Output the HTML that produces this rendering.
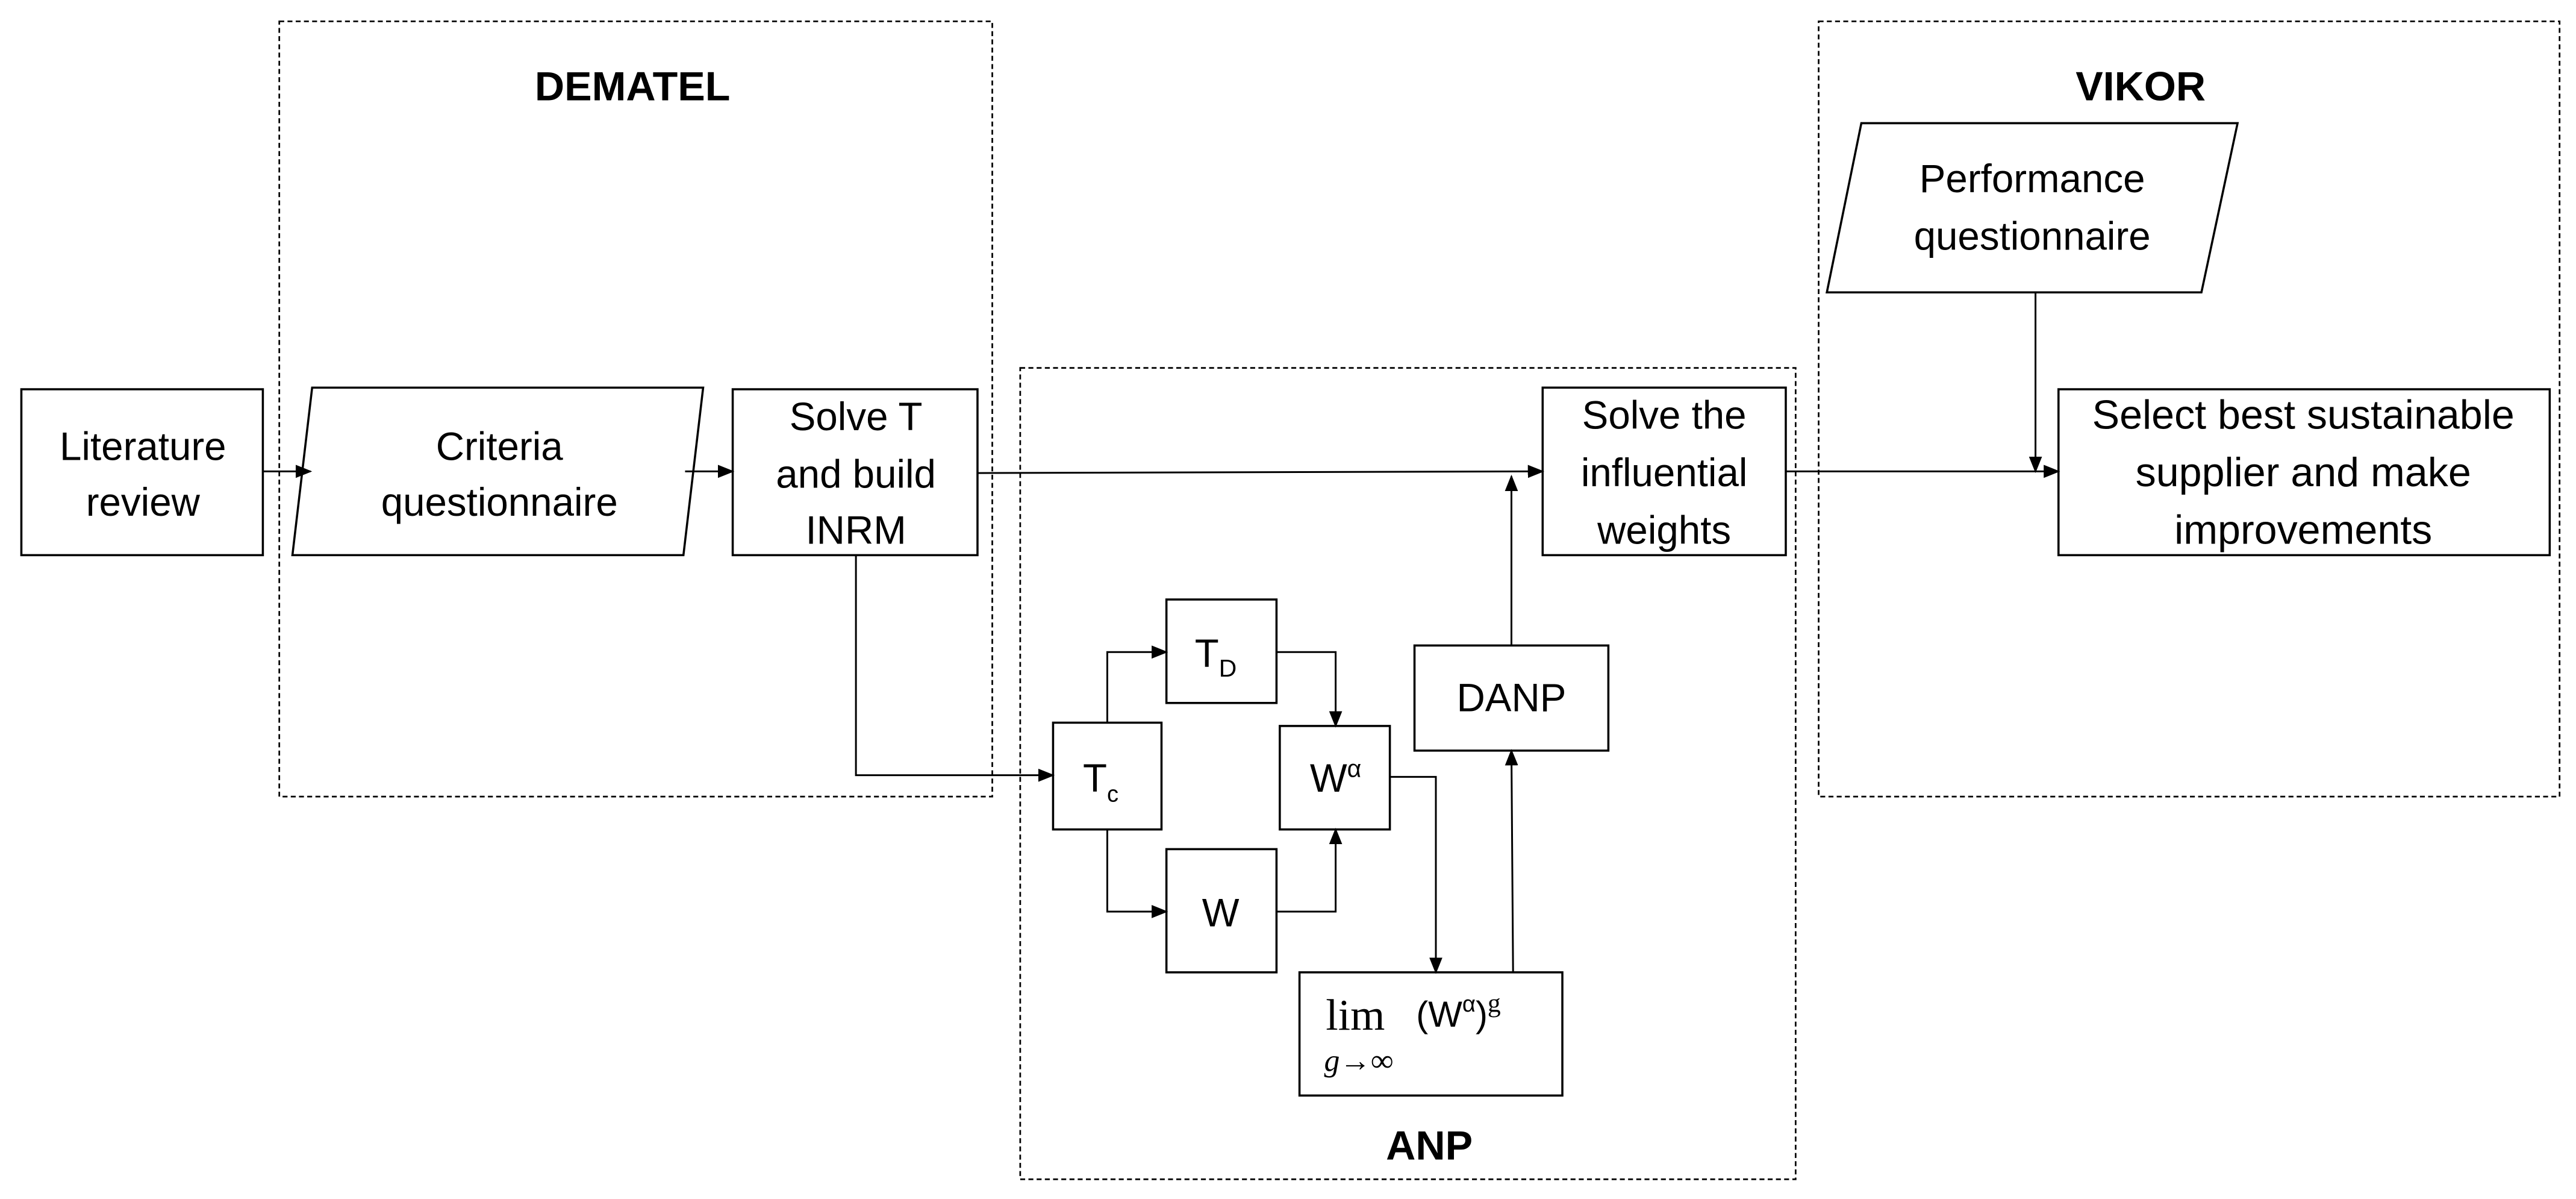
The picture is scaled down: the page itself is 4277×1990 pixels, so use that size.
<!DOCTYPE html>
<html><head><meta charset="utf-8"><style>
html,body{margin:0;padding:0;background:#fff;}
svg{display:block;}
</style></head><body>
<svg width="4277" height="1990" viewBox="0 0 1568 730" preserveAspectRatio="none" xmlns="http://www.w3.org/2000/svg" font-family="Liberation Sans, sans-serif">
<defs>
<marker id="a" markerWidth="10" markerHeight="8" refX="9" refY="4" orient="auto" markerUnits="userSpaceOnUse">
<path d="M0,0 L10,4 L0,8 Z" fill="#000"/></marker>
</defs>
<g fill="none" stroke="#000" stroke-width="1" stroke-dasharray="3,2">
<rect x="170" y="13" width="434" height="472"/>
<rect x="621" y="224" width="472" height="494"/>
<rect x="1107" y="13" width="451" height="472"/>
</g>
<g fill="#fff" stroke="#000" stroke-width="1.3">
<rect x="13" y="237" width="147" height="101"/>
<polygon points="190,236 428,236 416,338 178,338"/>
<rect x="446" y="237" width="149" height="101"/>
<rect x="939" y="236" width="148" height="102"/>
<polygon points="1133,75 1362,75 1340,178 1112,178"/>
<rect x="1253" y="237" width="299" height="101"/>
<rect x="641" y="440" width="66" height="65"/>
<rect x="710" y="365" width="67" height="63"/>
<rect x="710" y="517" width="67" height="75"/>
<rect x="779" y="442" width="67" height="63"/>
<rect x="861" y="393" width="118" height="64"/>
<rect x="791" y="592" width="160" height="75"/>
</g>
<g fill="none" stroke="#000" stroke-width="1.1">
<line x1="160" y1="287" x2="189" y2="287" marker-end="url(#a)"/>
<line x1="417" y1="287" x2="446" y2="287" marker-end="url(#a)"/>
<line x1="595" y1="288" x2="939" y2="287" marker-end="url(#a)"/>
<line x1="1087" y1="287" x2="1253" y2="287" marker-end="url(#a)"/>
<line x1="1239" y1="178" x2="1239" y2="287" marker-end="url(#a)"/>
<polyline points="521,338 521,472 641,472" marker-end="url(#a)"/>
<polyline points="674,440 674,397 710,397" marker-end="url(#a)"/>
<polyline points="674,505 674,555 710,555" marker-end="url(#a)"/>
<polyline points="777,397 813,397 813,442" marker-end="url(#a)"/>
<polyline points="777,555 813,555 813,505" marker-end="url(#a)"/>
<polyline points="846,473 874,473 874,592" marker-end="url(#a)"/>
<line x1="921" y1="592" x2="920" y2="457" marker-end="url(#a)"/>
<line x1="920" y1="393" x2="920" y2="290" marker-end="url(#a)"/>
</g>
<g font-size="24" text-anchor="middle" fill="#000">
<text x="385" y="61" font-weight="bold" font-size="25">DEMATEL</text>
<text x="1303" y="61" font-weight="bold" font-size="25">VIKOR</text>
<text x="870" y="706" font-weight="bold" font-size="25">ANP</text>
<text x="87" y="280">Literature</text>
<text x="87" y="314">review</text>
<text x="304" y="280">Criteria</text>
<text x="304" y="314">questionnaire</text>
<text x="521" y="262">Solve T</text>
<text x="521" y="297">and build</text>
<text x="521" y="331">INRM</text>
<text x="1013" y="261">Solve the</text>
<text x="1013" y="296">influential</text>
<text x="1013" y="331">weights</text>
<text x="1237" y="117">Performance</text>
<text x="1237" y="152">questionnaire</text>
<text x="1402" y="261" font-size="25">Select best sustainable</text>
<text x="1402" y="296" font-size="25">supplier and make</text>
<text x="1402" y="331" font-size="25">improvements</text>
<text x="920" y="433">DANP</text>
<text x="670" y="482">T<tspan font-size="14" dy="6">c</tspan></text>
<text x="740" y="406">T<tspan font-size="15" dy="6">D</tspan></text>
<text x="743" y="564">W</text>
<text x="813" y="482">W<tspan font-size="15" dy="-9">α</tspan></text>
</g>
<text x="807" y="627" style="font-family:'Liberation Serif',serif;font-size:27px">lim</text>
<text x="806" y="652" style="font-family:'Liberation Serif',serif;font-style:italic;font-size:19px">g→∞</text>
<text x="862" y="625" style="font-family:'Liberation Sans',sans-serif;font-size:22px">(W<tspan font-size="14" dy="-9">α</tspan><tspan dy="9">)</tspan><tspan font-size="16" dy="-9" style="font-family:'Liberation Serif',serif">g</tspan></text>
</svg>
</body></html>
